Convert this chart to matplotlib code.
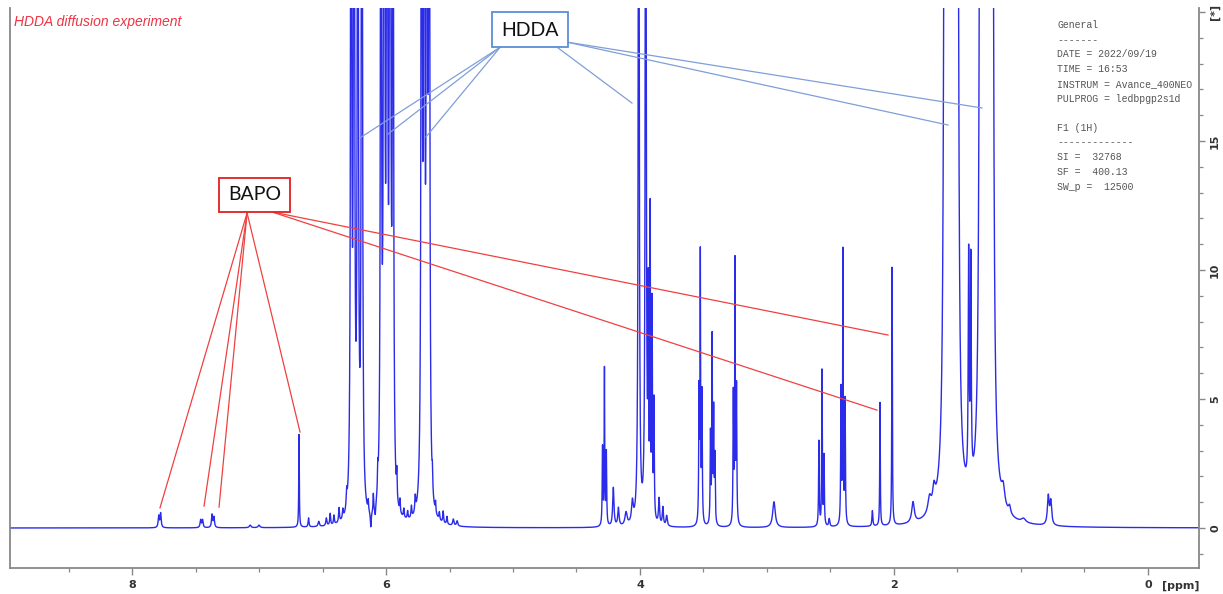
import numpy as np
import matplotlib
matplotlib.use("Agg")
import matplotlib.pyplot as plt
from matplotlib.ticker import MultipleLocator, FixedLocator
from matplotlib.patches import Rectangle

# ---------------- data ----------------
# Peak list of the 1H spectrum: centre (ppm), height (a.u.), half width (ppm)
peak_ppm = [
    7.79, 7.775, 7.46, 7.445, 7.37, 7.355, 7.07, 7.00,
    6.685, 6.61, 6.53, 6.47, 6.44, 6.41, 6.37, 6.34, 6.31,
    6.275, 6.252, 6.222, 6.19,
    6.14, 6.12, 6.10, 6.085, 6.065,
    6.04, 6.015, 5.992, 5.968, 5.945,
    5.915, 5.89, 5.86, 5.83, 5.80, 5.77,
    5.72, 5.70, 5.678, 5.66,
    5.635, 5.61, 5.58, 5.55, 5.52, 5.47, 5.44,
    4.295, 4.28, 4.265, 4.21, 4.17, 4.11, 4.06,
    4.01, 3.955,
    3.935, 3.92, 3.905, 3.89,
    3.85, 3.82, 3.79,
    3.535, 3.525, 3.512,
    3.445, 3.432, 3.42, 3.41,
    3.265, 3.252, 3.24,
    2.945,
    2.591, 2.567, 2.551, 2.51,
    2.417, 2.402, 2.385,
    2.17, 2.11, 2.015,
    1.85, 1.72, 1.685,
    1.60, 1.575, 1.55, 1.525, 1.50,
    1.412, 1.395,
    1.32, 1.295, 1.27, 1.245, 1.225,
    1.14, 1.09, 0.98,
    0.785, 0.765,
]
peak_height = [
    0.45, 0.55, 0.30, 0.30, 0.50, 0.40, 0.10, 0.10,
    3.6, 0.35, 0.2, 0.3, 0.45, 0.35, 0.55, 0.35, 0.6,
    45, 50, 45, 50,
    0.4, -0.6, 0.7, -0.4, 0.9,
    40, 60, 50, 60, 40,
    1.0, 0.5, 0.35, 0.3, 0.45, 0.6,
    45, 50, 50, 45,
    0.7, 0.4, 0.3, 0.45, 0.3, 0.25, 0.2,
    3.0, 6.0, 2.8, 1.5, 0.7, 0.5, 0.8,
    40, 40,
    8.0, 11.5, 8.2, 4.5,
    1.0, 0.7, 0.4,
    5.0, 10.2, 5.0,
    3.5, 7.1, 4.3, 2.5,
    5.0, 10.0, 5.2,
    1.0,
    3.3, 6.0, 2.7, 0.3,
    5.2, 10.5, 4.8,
    0.6, 4.8, 10.0,
    0.8, 0.6, 0.7,
    35, 50, 55, 50, 35,
    8.8, 8.5,
    35, 50, 55, 50, 35,
    0.7, 0.3, 0.15,
    1.1, 0.9,
]
peak_hwhm = [
    0.005, 0.005, 0.005, 0.005, 0.005, 0.005, 0.008, 0.008,
    0.0025, 0.004, 0.006, 0.005, 0.004, 0.004, 0.004, 0.004, 0.004,
    0.004, 0.004, 0.004, 0.004,
    0.003, 0.004, 0.003, 0.004, 0.003,
    0.004, 0.004, 0.004, 0.004, 0.004,
    0.003, 0.003, 0.004, 0.004, 0.004, 0.004,
    0.004, 0.004, 0.004, 0.004,
    0.003, 0.003, 0.004, 0.004, 0.004, 0.006, 0.006,
    0.003, 0.0025, 0.003, 0.006, 0.006, 0.01, 0.008,
    0.004, 0.004,
    0.003, 0.0025, 0.003, 0.003,
    0.005, 0.005, 0.006,
    0.003, 0.0025, 0.003,
    0.003, 0.0025, 0.003, 0.003,
    0.003, 0.0025, 0.003,
    0.012,
    0.003, 0.0025, 0.003, 0.005,
    0.003, 0.0025, 0.003,
    0.004, 0.0025, 0.0025,
    0.012, 0.015, 0.012,
    0.008, 0.008, 0.008, 0.008, 0.008,
    0.004, 0.004,
    0.008, 0.008, 0.008, 0.008, 0.008,
    0.015, 0.01, 0.02,
    0.008, 0.008,
]

x_ticks = [8, 6, 4, 2, 0]
y_ticks = [0, 5, 10, 15, 20]
y_tick_labels = ["0", "5", "10", "15", "[*]"]

info_lines = [
    "General", "-------", "DATE = 2022/09/19", "TIME = 16:53",
    "INSTRUM = Avance_400NEO", "PULPROG = ledbpgp2s1d", "",
    "F1 (1H)", "-------------", "SI =  32768", "SF =  400.13", "SW_p =  12500",
]

# annotation targets (ppm, intensity)
bapo_targets = [(7.78, 0.78), (7.433, 0.85), (7.315, 0.81), (6.677, 3.72)]
bapo_targets_far = [(2.047, 7.48), (2.134, 4.57)]
hdda_targets_left = [(6.205, 15.12), (5.984, 15.27), (5.685, 15.16)]
hdda_target_mid = (4.063, 16.47)
hdda_targets_far = [(1.575, 15.62), (1.307, 16.28)]

# ---------------- figure ----------------
W, H = 1223, 594
fig = plt.figure(figsize=(W / 100, H / 100), dpi=100)
ax = fig.add_axes([10 / W, 26 / H, 1189 / W, 560 / H])

XL, XR = 8.961, -0.402
YB, YT = -1.55, 20.155
ppm = np.linspace(XL, XR, 30000)
spec = np.zeros_like(ppm)
for c, h, g in zip(peak_ppm, peak_height, peak_hwhm):
    spec += h * g ** 2 / ((ppm - c) ** 2 + g ** 2)

ax.plot(ppm, spec, color="#2b2bea", lw=1.0)
ax.set_xlim(XL, XR)
ax.set_ylim(YB, YT)

spine_c = "#888888"
ax.spines["top"].set_visible(False)
for s in ("left", "bottom", "right"):
    ax.spines[s].set_color(spine_c)
    ax.spines[s].set_linewidth(1.3)

ax.xaxis.set_major_locator(FixedLocator(x_ticks))
ax.xaxis.set_minor_locator(MultipleLocator(0.5))
ax.set_xticklabels([str(v) for v in x_ticks])
ax.tick_params(axis="x", which="major", direction="out", length=5, width=1.0,
               color=spine_c, labelsize=8, labelcolor="#333333", pad=4)
ax.tick_params(axis="x", which="minor", direction="out", length=3, width=0.9,
               color=spine_c)
for t in ax.get_xticklabels():
    t.set_fontweight("bold")

ax.yaxis.tick_right()
ax.yaxis.set_major_locator(FixedLocator(y_ticks))
ax.yaxis.set_minor_locator(MultipleLocator(1))
ax.set_yticklabels(y_tick_labels, rotation=90, va="center")
ax.tick_params(axis="y", which="major", direction="out", length=4, width=1.0,
               color=spine_c, labelsize=8, labelcolor="#333333", pad=4)
ax.tick_params(axis="y", which="minor", direction="out", length=3, width=0.9,
               color=spine_c)
for t in ax.get_yticklabels():
    t.set_fontweight("bold")

ax.text((1181 - 10) / 1189, -(586 - 568) / 560, "[ppm]", transform=ax.transAxes,
        ha="center", va="center", fontsize=8, fontweight="bold", color="#333333")

# title
ax.text(4 / 1189, (568 - 22) / 560, "HDDA diffusion experiment", transform=ax.transAxes,
        ha="left", va="center", fontsize=10, style="italic", color="#ee3344",
        family="Liberation Sans")

# info block
for i, line in enumerate(info_lines):
    ax.text((1057 - 10) / 1189, (568 - 25 - i * 14.7) / 560, line, transform=ax.transAxes,
            ha="left", va="center", fontsize=7.1, color="#555555",
            family="Liberation Mono")

# leader lines
red = "#f04040"
blue = "#7f9fd8"
bapo_src = (7.094, 12.21)
bapo_src2 = (6.898, 12.25)
for tx, ty in bapo_targets:
    ax.plot([bapo_src[0], tx], [bapo_src[1], ty], color=red, lw=0.9)
for tx, ty in bapo_targets_far:
    ax.plot([bapo_src2[0], tx], [bapo_src2[1], ty], color=red, lw=0.9)

hdda_src = (5.10, 18.64)
hdda_src2 = (4.654, 18.64)
hdda_src3 = (4.583, 18.84)
for tx, ty in hdda_targets_left:
    ax.plot([hdda_src[0], tx], [hdda_src[1], ty], color=blue, lw=0.9)
ax.plot([hdda_src2[0], hdda_target_mid[0]], [hdda_src2[1], hdda_target_mid[1]], color=blue, lw=0.9)
for tx, ty in hdda_targets_far:
    ax.plot([hdda_src3[0], tx], [hdda_src3[1], ty], color=blue, lw=0.9)

# label boxes
ax.add_patch(Rectangle((5.165, 18.64), 4.567 - 5.165, 20.0 - 18.64, facecolor="white",
                       edgecolor="#5b8fd6", lw=1.3, zorder=5))
ax.text(4.866, 19.30, "HDDA", ha="center", va="center", fontsize=14, color="#111111",
        family="Lato", zorder=6)
ax.add_patch(Rectangle((7.315, 12.25), 6.756 - 7.315, 13.57 - 12.25, facecolor="white",
                       edgecolor="#e02020", lw=1.3, zorder=5))
ax.text(7.035, 12.91, "BAPO", ha="center", va="center", fontsize=14, color="#111111",
        family="Lato", zorder=6)

fig.savefig("out.png", dpi=100)
